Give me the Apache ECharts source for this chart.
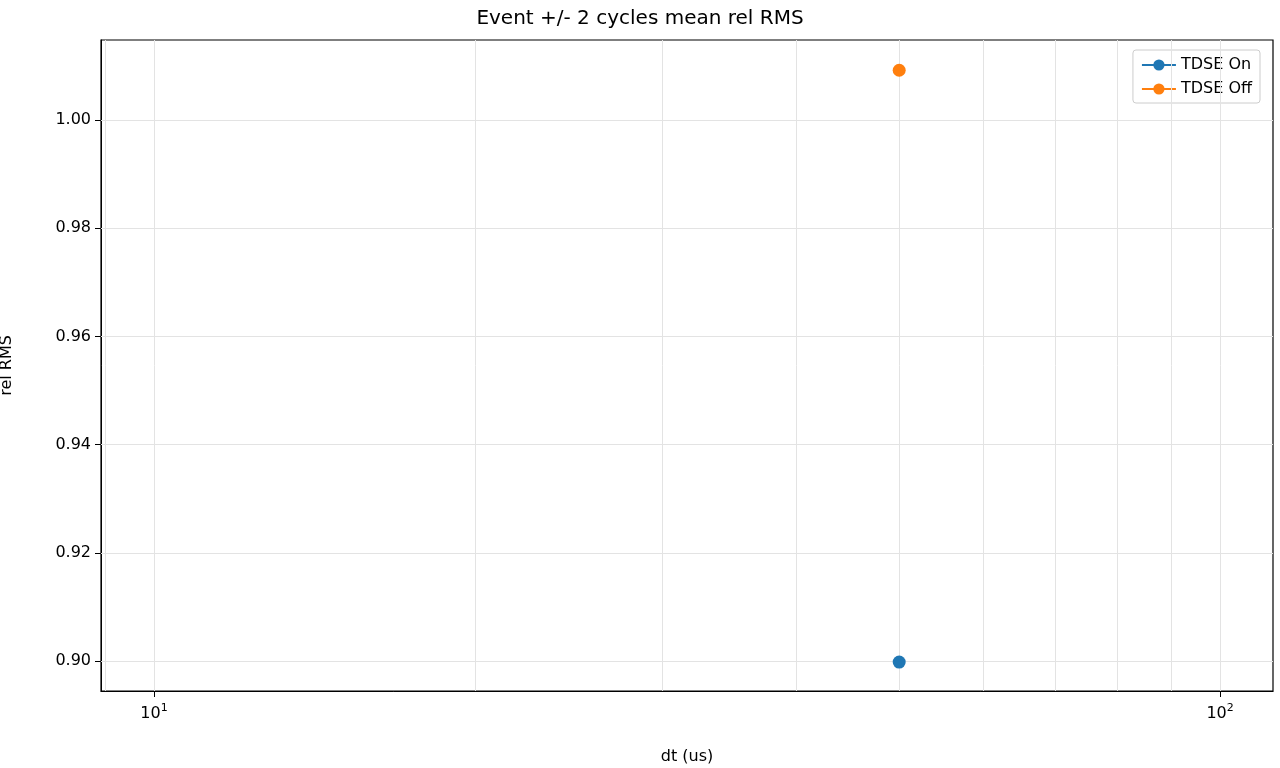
<!DOCTYPE html>
<html>
<head>
<meta charset="utf-8">
<script src="https://cdn.jsdelivr.net/npm/echarts@6/dist/echarts.min.js"></script>
<style>html,body{margin:0;padding:0;background:#fff}#main{width:1280px;height:768px}</style>
</head>
<body>
<div id="main"></div>
<script>
// data
var seriesNames = ['TDSE On', 'TDSE Off'];
var dtValues = [50];
var onValues = [0.8998];
var offValues = [1.0092];
var yTicks = [0.90, 0.92, 0.94, 0.96, 0.98, 1.00];
var xTicks = [10, 100];
var minorX = [9, 20, 30, 40, 50, 60, 70, 80, 90];

var chart = echarts.init(document.getElementById('main'));
var font = 'DejaVu Sans';
var gridStyle = {color: '#e3e3e3', type: 'solid', width: 1};

function pairs(xs, ys) {
    return xs.map(function (x, i) { return [x, ys[i]]; });
}

chart.setOption({
    textStyle: {fontFamily: font},
    animation: false,
    title: {
        text: 'Event +/- 2 cycles mean rel RMS',
        left: 'center', top: 4,
        textStyle: {fontFamily: font, fontSize: 20, fontWeight: 'normal', color: '#000'}
    },
    legend: {
        right: 20, top: 50, orient: 'vertical',
        data: seriesNames,
        itemWidth: 34, itemHeight: 14, itemGap: 8,
        padding: [7, 8, 6, 8],
        borderColor: '#cccccc', borderWidth: 1, borderRadius: 3,
        backgroundColor: '#fff',
        textStyle: {fontFamily: font, fontSize: 16, color: '#000'}
    },
    grid: {
        left: 101, right: 7, top: 40, bottom: 77,
        outerBoundsMode: 'none', containLabel: false,
        show: true, borderColor: '#000', borderWidth: 1.2
    },
    xAxis: {
        type: 'log', logBase: 10,
        min: 8.918, max: 112.1,
        name: 'dt (us)', nameLocation: 'middle', nameGap: 58,
        nameTextStyle: {fontSize: 16, color: '#000'},
        axisLine: {onZero: false, lineStyle: {color: '#000'}},
        axisTick: {customValues: xTicks, length: 6, lineStyle: {color: '#000'}},
        splitLine: {show: false},
        axisLabel: {
            customValues: xTicks, margin: 12, color: '#000',
            formatter: function (v) {
                return '{b|10}{s|' + Math.round(Math.log10(v)) + '}';
            },
            rich: {
                b: {fontSize: 16, color: '#000'},
                s: {fontSize: 11, color: '#000', padding: [0, 0, 10, 0]}
            }
        }
    },
    yAxis: {
        type: 'value', min: 0.89445, max: 1.01479,
        name: 'rel RMS', nameLocation: 'middle', nameGap: 86,
        nameTextStyle: {fontSize: 16, color: '#000'},
        axisLine: {show: true, lineStyle: {color: '#000'}},
        axisTick: {show: true, customValues: yTicks, length: 6, lineStyle: {color: '#000'}},
        splitLine: {show: false},
        axisLabel: {
            customValues: yTicks, fontSize: 16, color: '#000', margin: 10,
            formatter: function (v) { return v.toFixed(2); }
        }
    },
    series: [
        {
            name: 'grid', type: 'line', data: [], silent: true,
            markLine: {
                silent: true, symbol: 'none', label: {show: false},
                lineStyle: gridStyle,
                data: xTicks.concat(minorX).map(function (x) { return {xAxis: x}; })
                    .concat(yTicks.map(function (y) { return {yAxis: y}; }))
            }
        },
        {
            name: seriesNames[0], type: 'line', data: pairs(dtValues, onValues),
            color: '#1f77b4', symbol: 'circle', symbolSize: 13, z: 5,
            lineStyle: {width: 2}
        },
        {
            name: seriesNames[1], type: 'line', data: pairs(dtValues, offValues),
            color: '#ff7f0e', symbol: 'circle', symbolSize: 13, z: 5,
            lineStyle: {width: 2}
        }
    ]
});
</script>
</body>
</html>
